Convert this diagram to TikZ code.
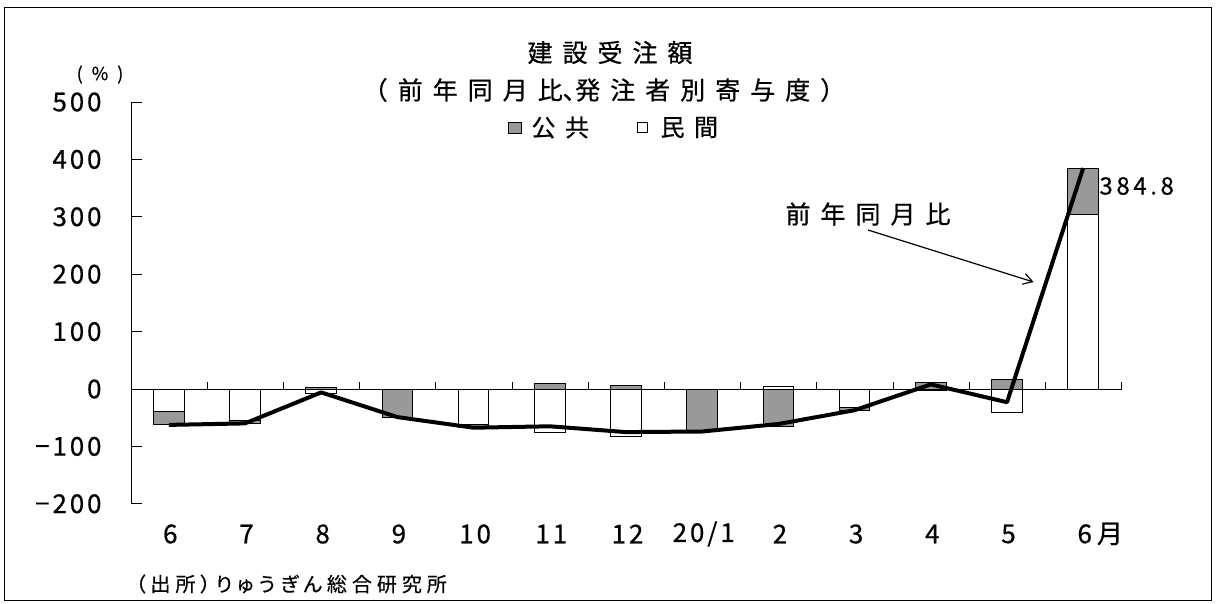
\documentclass[tikz,border=0pt]{standalone}
\usepackage{fontspec}
\setmainfont{Noto Sans CJK JP}[FakeBold=0.6]
\newfontfamily\jpt[LetterSpace=40,FakeBold=0.6]{Noto Sans CJK JP}
\newfontfamily\jptp[LetterSpace=20,RawFeature=+palt,FakeBold=0.6]{Noto Sans CJK JP}
\newfontfamily\jpn[LetterSpace=11,FakeBold=0.6]{Noto Sans CJK JP}
\newfontfamily\jpv[LetterSpace=15,FakeBold=0.6]{Noto Sans CJK JP}
\newfontfamily\jpp[LetterSpace=50,FakeBold=0.6]{Noto Sans CJK JP}
\newfontfamily\jpsrc[RawFeature=+palt,LetterSpace=25,FakeBold=0.4]{Noto Sans CJK JP}
\usetikzlibrary{arrows.meta}
\definecolor{pubgray}{RGB}{153,153,153}
\begin{document}
\begin{tikzpicture}[x=1pt,y=-1pt,
  every node/.style={inner sep=0pt,outer sep=0pt},
  frame/.style={draw=black,line width=1.5pt},
  ttl/.style={font=\jpt\fontsize{25}{30}\selectfont},
  lgd/.style={font=\jpt\fontsize{24}{28}\selectfont,anchor=west},
  ylab/.style={font=\jpn\fontsize{26}{30}\selectfont,anchor=east},
  xlab/.style={font=\jpn\fontsize{26}{30}\selectfont},
  wbar/.style={draw=black,fill=white,line width=0.9pt},
  gbar/.style={draw=black,fill=pubgray,line width=0.9pt},
  axis/.style={draw=black,line width=0.9pt},
  tot/.style={draw=black,line width=4pt,line join=round},
  arr/.style={draw=black,line width=1.2pt,-{Straight Barb[length=9pt,width=11pt]}}]
\useasboundingbox (0,0) rectangle (1216,604);
\draw[frame] (4.7,7.3) rectangle (1211.5,600.5);
% bars
\foreach \i/\w/\ga/\gb in {0/-39.5/-39.5/-62.5, 1/-54/-54/-60, 2/-8/0/2,
  3/-1.5/-1.5/-49, 4/-62/-62/-67.5, 5/-75.5/0/10.5, 6/-82/0/7,
  7/-1/-1/-74, 8/5/0/-66, 9/-33/-33/-37, 10/-3/0/11, 11/-40/0/17,
  12/304/304/384.8}{
  \pgfmathsetmacro\cx{168.8+76.2*\i}
  \pgfmathsetmacro\yw{389-0.574*(\w)}
  \pgfmathsetmacro\ya{389-0.574*(\ga)}
  \pgfmathsetmacro\yb{389-0.574*(\gb)}
  \draw[wbar] ({\cx-15.3},389) rectangle ({\cx+15.3},\yw);
  \draw[gbar] ({\cx-15.3},\ya) rectangle ({\cx+15.3},\yb);
}
% axes
\draw[axis] (131,102) -- (131,503.8);
\foreach \v in {-200,-100,0,100,200,300,400,500}{
  \draw[axis] (131,{389-0.574*\v}) -- (141.7,{389-0.574*\v});
}
\draw[axis] (131,389) -- (1121.6,389);
\foreach \k in {1,...,13}{
  \draw[axis] ({131+76.2*\k},389) -- ({131+76.2*\k},382);
}
% total line
\draw[tot] (168.8,424.9) -- (245,423.4) -- (321.2,392.4) -- (397.4,417.1)
  -- (473.6,427.7) -- (549.8,426.3) -- (626,432.1) -- (702.2,431.5)
  -- (778.4,424.0) -- (854.6,410.2) -- (930.8,384.4) -- (1007,402.2)
  -- (1083.2,168.1);
% y labels
\node[ylab] (y500) at (101.5,102) {500};
\node[ylab] (y400) at (101.5,159.4) {400};
\node[ylab] (y300) at (101.5,216.8) {300};
\node[ylab] (y200) at (101.5,274.2) {200};
\node[ylab] (y100) at (101.5,331.6) {100};
\node[ylab] (y0) at (101.5,389) {0};
\node[ylab] (ym100) at (101.5,446.4) {−100};
\node[ylab] (ym200) at (101.5,503.8) {−200};
\node[font=\jpp\fontsize{18}{20}\selectfont] (pct) at (100,74.5) {(\%)};
% x labels
\node[xlab] (x0) at (170.3,534) {6};
\node[xlab] (x1) at (246.5,534) {7};
\node[xlab] (x2) at (322.7,534) {8};
\node[xlab] (x3) at (398.9,534) {9};
\node[xlab] (x4) at (475.1,534) {10};
\node[xlab] (x5) at (551.3,534) {11};
\node[xlab] (x6) at (627.5,534) {12};
\node[xlab] (x7) at (703.7,534) {20/1};
\node[xlab] (x8) at (779.9,534) {2};
\node[xlab] (x9) at (856.1,534) {3};
\node[xlab] (x10) at (932.3,534) {4};
\node[xlab] (x11) at (1008.5,534) {5};
\node[xlab,anchor=west] (x12) at (1077.5,534) {6\kern5pt月};
% title and legend
\node[ttl] (t1) at (610,52.5) {建設受注額};
\node[ttl] (t2) at (604,90) {（前年同月比{\jptp\fontsize{25}{30}\selectfont 、}発注者別寄与度）};
\draw[gbar,line width=0.7pt] (508.5,122) rectangle (521.5,133);
\node[lgd] (lg1) at (531.5,127.5) {公共};
\draw[wbar,line width=0.7pt] (637,122.5) rectangle (647.5,132.5);
\node[lgd] (lg2) at (660.5,127.5) {民間};
% value label
\node[font=\jpv\fontsize{24}{28}\selectfont,anchor=west] (val) at (1099.5,186) {384.8};
% annotation
\node[ttl] (yoylbl) at (868,214) {前年同月比};
\coordinate (arrS) at (868,230);
\coordinate (arrE) at (1033.5,282);
\draw[arr] (arrS) -- (arrE);
% source
\node[font=\jpsrc\fontsize{20}{24}\selectfont,anchor=west] (src) at (135.5,584) {（出所）りゅうぎん総合研究所};
\end{tikzpicture}
\end{document}
